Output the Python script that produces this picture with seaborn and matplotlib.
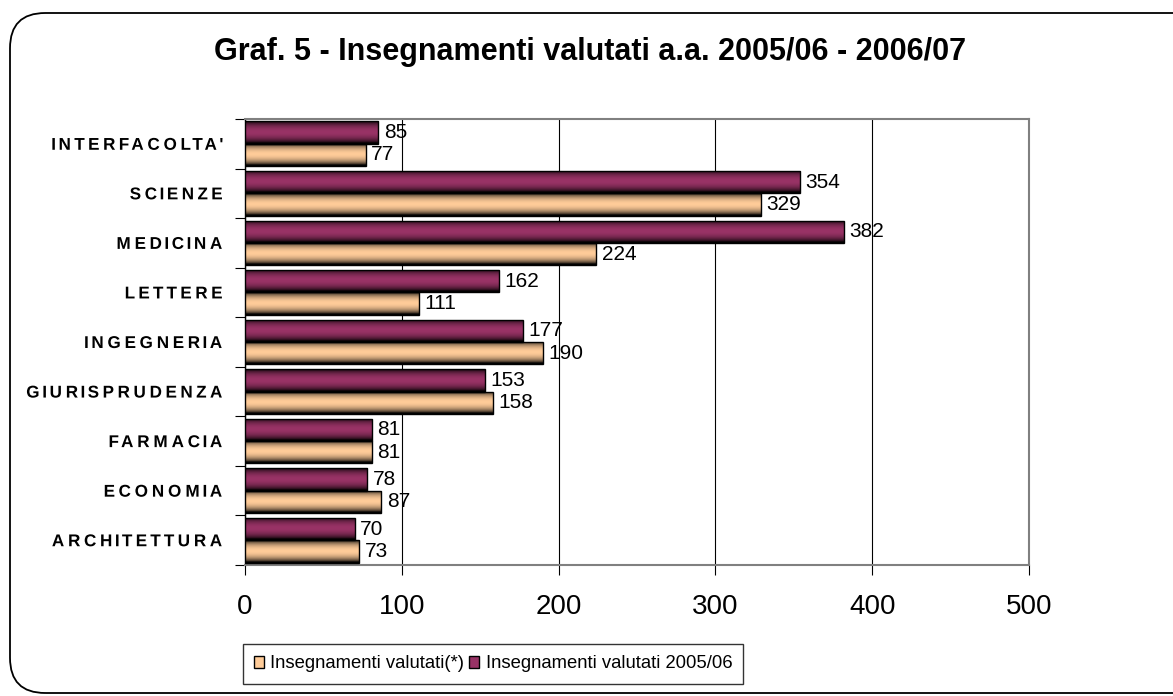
import numpy as np
import pandas as pd
import matplotlib
matplotlib.use("Agg")
import matplotlib.pyplot as plt
import seaborn as sns
from matplotlib.patches import FancyBboxPatch, Patch
from matplotlib.colors import to_rgb
from matplotlib.patheffects import AbstractPathEffect
from matplotlib.path import Path
from matplotlib.transforms import Affine2D

# Faculties, top to bottom
facolta = ["INTERFACOLTA'", "SCIENZE", "MEDICINA", "LETTERE", "INGEGNERIA",
           "GIURISPRUDENZA", "FARMACIA", "ECONOMIA", "ARCHITETTURA"]
valutati_2005_06 = [85, 354, 382, 162, 177, 153, 81, 78, 70]
valutati_star = [77, 329, 224, 111, 190, 158, 81, 87, 73]

serie_2005 = "Insegnamenti valutati 2005/06"
serie_star = "Insegnamenti valutati(*)"
x_ticks = [0, 100, 200, 300, 400, 500]

df = pd.DataFrame({
    "facolta": facolta * 2,
    "valore": valutati_2005_06 + valutati_star,
    "serie": [serie_2005] * len(facolta) + [serie_star] * len(facolta),
})

colori = {serie_2005: "#993366", serie_star: "#FFCC99"}


class LetterSpacing(AbstractPathEffect):
    """Spread the glyphs of a right-aligned text apart, keeping their shapes."""

    def __init__(self, factor):
        super().__init__()
        self.factor = factor

    def draw_path(self, renderer, gc, tpath, affine, rgbFace=None):
        codes = tpath.codes
        if codes is None or len(codes) == 0:
            renderer.draw_path(gc, tpath, affine, rgbFace)
            return
        verts = affine.transform(tpath.vertices)
        valid = codes != Path.CLOSEPOLY
        xr = verts[valid, 0].max()
        starts = np.flatnonzero(codes == Path.MOVETO)
        ends = list(starts[1:]) + [len(codes)]
        new = verts.copy()
        for s, e in zip(starts, ends):
            seg = verts[s:e, 0][valid[s:e]]
            if seg.size == 0:
                continue
            cx = 0.5 * (seg.min() + seg.max())
            new[s:e, 0] += (self.factor - 1) * (cx - xr)
        renderer.draw_path(gc, Path(new, codes), Affine2D(), rgbFace)


sns.set_theme(style="white")
plt.rcParams["font.family"] = ["Liberation Sans", "DejaVu Sans"]
plt.rcParams["text.color"] = "black"
plt.rcParams["xtick.color"] = "black"
plt.rcParams["ytick.color"] = "black"
plt.rcParams["xtick.labelcolor"] = "black"
plt.rcParams["ytick.labelcolor"] = "black"

fig = plt.figure(figsize=(11.73, 6.96), dpi=100)
fig.patch.set_facecolor("white")

# rounded outer frame
frame = FancyBboxPatch((10 / 1173, 1 - 693 / 696), 1.2, (693 - 13) / 696,
                       boxstyle="round,pad=0,rounding_size=0.03",
                       transform=fig.transFigure, fill=False,
                       edgecolor="black", linewidth=1.3, clip_on=False,
                       mutation_aspect=1173 / 696)
fig.patches.append(frame)

ax = fig.add_axes([245 / 1173, 1 - 565 / 696, (1029 - 245) / 1173, (565 - 119) / 696])

sns.barplot(data=df, y="facolta", x="valore", hue="serie",
            hue_order=[serie_2005, serie_star], order=facolta,
            palette=colori, orient="h", width=0.9, dodge=True, gap=0,
            edgecolor="black", linewidth=1.0, saturation=1, ax=ax,
            legend=False, zorder=3)

ax.set_xlim(0, 500)
ax.set_ylim(len(facolta) - 0.5, -0.5)
xlim, ylim = ax.get_xlim(), ax.get_ylim()

# cylinder-like shading on each bar
t = np.linspace(0, 1, 64)
profilo = np.clip(np.sin(np.pi * np.clip(t * 1.05, 0, 1)) ** 0.65, 0, 1)
for cont, serie in zip(ax.containers, [serie_2005, serie_star]):
    base = np.array(to_rgb(colori[serie]))
    img = (profilo[:, None] * base[None, :])[:, None, :]
    for bar in cont:
        x0, y0 = bar.get_x(), bar.get_y()
        w, h = bar.get_width(), bar.get_height()
        im = ax.imshow(img, extent=(x0, x0 + w, y0 + h, y0), origin="upper",
                       aspect="auto", interpolation="bilinear", zorder=3.5)
        im.set_clip_path(bar)
        bar.set_facecolor("none")
        bar.set_zorder(4)
    ax.bar_label(cont, padding=4, fontsize=15, color="black", zorder=5)

ax.set_xlim(xlim)
ax.set_ylim(ylim)

# grid and plot frame
ax.set_xticks(x_ticks)
ax.set_xticklabels([str(v) for v in x_ticks], fontsize=20)
ax.xaxis.grid(True, color="black", linewidth=0.8, zorder=1)
ax.yaxis.grid(False)
ax.set_axisbelow(True)
for side in ["top", "right", "bottom"]:
    ax.spines[side].set_color("#808080")
    ax.spines[side].set_linewidth(1.5)
ax.spines["left"].set_color("black")
ax.spines["left"].set_linewidth(1.0)

ax.tick_params(axis="x", which="major", direction="out", length=7,
               width=0.8, color="black", pad=14, bottom=True)
ax.set_yticks(range(len(facolta)))
ax.set_yticklabels(facolta, fontsize=12.3, fontweight="bold")
for lab in ax.get_yticklabels():
    lab.set_path_effects([LetterSpacing(1.3)])
ax.set_yticks(np.arange(-0.5, len(facolta), 1), minor=True)
ax.tick_params(axis="y", which="major", length=0, pad=15)
ax.tick_params(axis="y", which="minor", direction="out", length=7,
               width=0.8, color="black", left=True)
ax.set_xlabel("")
ax.set_ylabel("")

fig.text(590 / 1173, 1 - 52 / 696,
         "Graf. 5 - Insegnamenti valutati a.a. 2005/06 - 2006/07",
         ha="center", va="center", fontsize=22, fontweight="bold")

handles = [Patch(facecolor=colori[serie_star], edgecolor="black", label=serie_star),
           Patch(facecolor=colori[serie_2005], edgecolor="black", label=serie_2005)]
leg = fig.legend(handles=handles, loc="center", ncol=2,
                 bbox_to_anchor=(493 / 1173, 1 - 664 / 696),
                 fontsize=13.3, frameon=True, fancybox=False,
                 handlelength=0.55, handleheight=0.55, handletextpad=0.35,
                 columnspacing=0.25, borderpad=0.6, borderaxespad=0)
leg.get_frame().set_edgecolor("black")
leg.get_frame().set_linewidth(1.0)

fig.savefig("out.png", dpi=100)
